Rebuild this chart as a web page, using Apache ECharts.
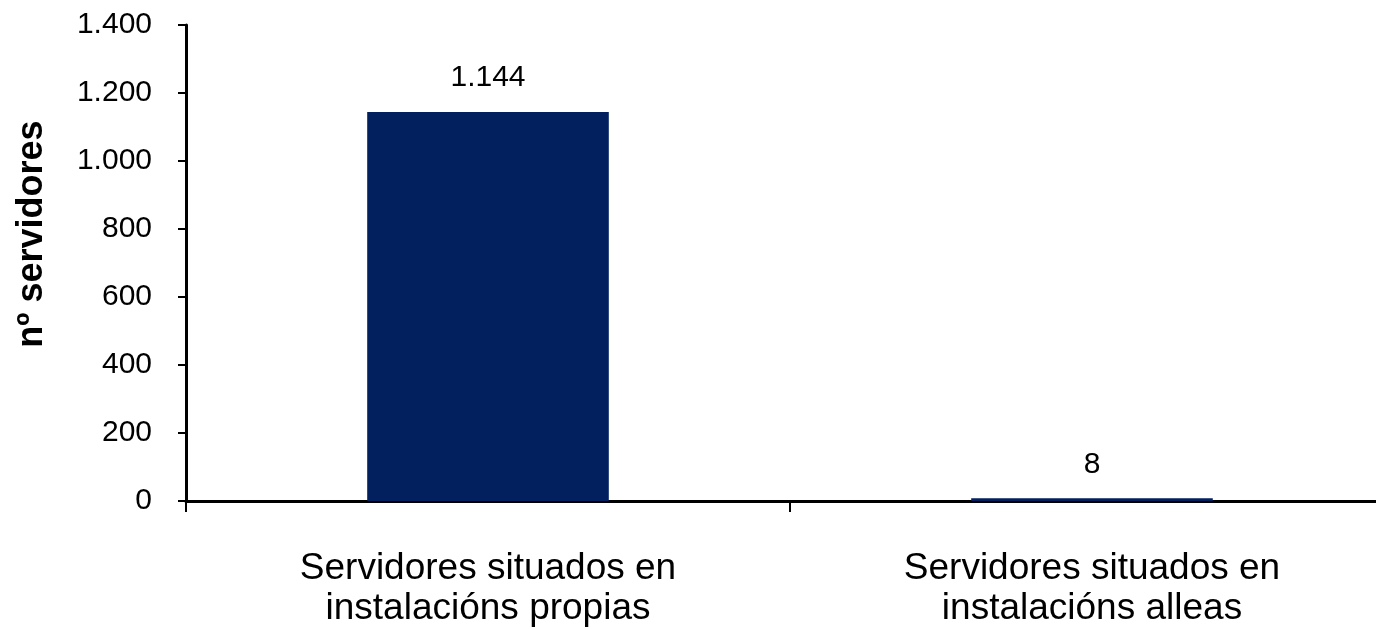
<!DOCTYPE html>
<html><head><meta charset="utf-8">
<script src="https://cdn.jsdelivr.net/npm/echarts@6/dist/echarts.min.js"></script>
<style>html,body{margin:0;padding:0;background:#fff;overflow:hidden;width:1376px;height:629px}#c{width:1394px;height:629px}</style>
</head><body><div id="c"></div>
<script>
const categories = ["Servidores situados en\ninstalacións propias", "Servidores situados en\ninstalacións alleas"];
const values = [1144, 8];
const yTicks = [0, 200, 400, 600, 800, 1000, 1200, 1400];
const yAxisTitle = "nº servidores";

const chart = echarts.init(document.getElementById('c'), null, {renderer:'canvas'});
const fmt = v => String(v).replace(/\B(?=(\d{3})+(?!\d))/g, '.');
chart.setOption({
  animation:false,
  grid:{left:186, top:25, right:0, bottom:128, containLabel:false},
  xAxis:{type:'category', data:categories,
    axisLine:{lineStyle:{color:'#000', width:3}},
    axisTick:{show:true, alignWithLabel:false, length:11, lineStyle:{color:'#000', width:2}},
    axisLabel:{color:'#000', fontFamily:'Liberation Sans, Arial', fontSize:37, lineHeight:40, margin:48}
  },
  yAxis:{type:'value', min:yTicks[0], max:yTicks[yTicks.length-1], interval:200,
    name:yAxisTitle, nameLocation:'middle', nameGap:136, nameRotate:90,
    nameTextStyle:{color:'#000', fontFamily:'Liberation Sans, Arial', fontWeight:'bold', fontSize:36, padding:[0,0,0,58]},
    axisLine:{show:true, lineStyle:{color:'#000', width:3}},
    axisTick:{show:true, length:8, lineStyle:{color:'#000', width:2}},
    splitLine:{show:false},
    axisLabel:{color:'#000', fontFamily:'Liberation Sans, Arial', fontSize:30, margin:34, formatter:fmt}
  },
  series:[{type:'bar', data:values, barWidth:'40%',
    itemStyle:{color:'#021f5e'},
    label:{show:true, position:'top', distance:19, color:'#000', fontFamily:'Liberation Sans, Arial', fontSize:30, formatter:p=>fmt(p.value)}
  }]
});
</script></body></html>
